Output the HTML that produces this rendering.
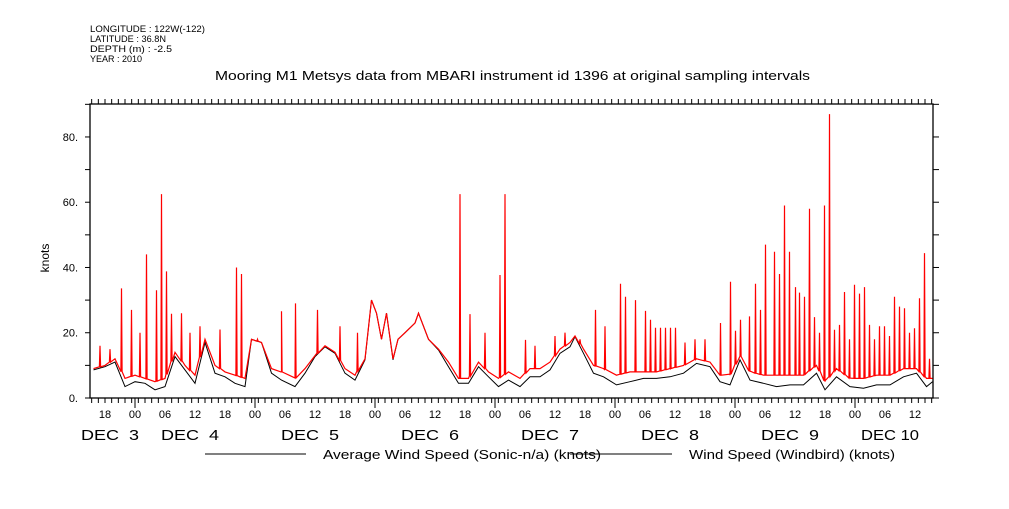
<!DOCTYPE html>
<html><head><meta charset="utf-8"><style>
body{margin:0;background:#fff;}
svg text{font-family:"Liberation Sans",sans-serif;fill:#000;}
</style></head><body>
<svg id="c" width="1009" height="504" viewBox="0 0 1009 504" xmlns="http://www.w3.org/2000/svg">
<g font-size="9">
<text x="90" y="32" textLength="115" lengthAdjust="spacingAndGlyphs">LONGITUDE : 122W(-122)</text>
<text x="90" y="42" textLength="76" lengthAdjust="spacingAndGlyphs">LATITUDE : 36.8N</text>
<text x="90" y="52" textLength="82" lengthAdjust="spacingAndGlyphs">DEPTH (m) : -2.5</text>
<text x="90" y="62" textLength="52" lengthAdjust="spacingAndGlyphs">YEAR : 2010</text>
</g>
<text x="215" y="80" font-size="12.5" textLength="595" lengthAdjust="spacingAndGlyphs">Mooring M1 Metsys data from MBARI instrument id 1396 at original sampling intervals</text>
<text x="0" y="0" font-size="12" text-anchor="middle" transform="translate(49,258) rotate(-90)">knots</text>
<g id="axes"></g>
<g id="series"></g>
<g font-size="12.5">
<line x1="205" y1="454" x2="306" y2="454" stroke="#000"/>
<text x="323" y="459" textLength="278" lengthAdjust="spacingAndGlyphs">Average Wind Speed (Sonic-n/a) (knots)</text>
<line x1="570" y1="454" x2="672" y2="454" stroke="#000"/>
<text x="689" y="459" textLength="206" lengthAdjust="spacingAndGlyphs">Wind Speed (Windbird) (knots)</text>
</g>
</svg>
<script>
const hours=[-8.3,-6,-4,-2,0,2,4,6,8,10,12,14,16,18,20,22,23.3,25.3,27.3,29.3,32,34,36,38,40,42,44,46,47.3,48.3,49.3,50.3,51.6,52.6,54,56,56.7,58.7,60.7,62.7,64.7,66.7,68.7,70.7,72.7,74.7,77,79,81,83,85,87,88,89.7,91.7,93.7,96.3,99,101.7,104.3,107,109.7,112.3,115,117,119,121,123,125.7,128.3,131,133.7,136.3,138,140.3,143,145.7,148.3,151,153.7,156.3,158.3,159.5];
const avgSpeed=[8.6,9.6,11,3.5,5,4.5,2.5,3.5,12.7,8.6,4.5,17,7.6,6.5,4.5,3.5,18,17,7.6,5.5,3.5,7.6,12.7,15.7,13.7,7.6,5.5,11.7,30,26,18,26,11.7,18,20,23,26,18,14.7,9.6,4.5,4.5,9.6,6.5,3.5,5.5,3.5,6.5,6.5,8.6,13.7,15.7,18.8,13.7,7.6,6.5,4,5,6,6,6.5,7.6,10.6,9.6,5,4,11.7,5.5,4.5,3.5,4,4,7.6,2.5,6.5,3.5,3,4,4,6.5,7.6,3.5,5];
const windbirdBase=[9,10,12,6,7,6,5,6,14,10,7,18,10,8,7,6,18,17,9,8,6,9,13,16,14,9,7,12,30,26,18,26,12,18,20,23,26,18,15,11,6,6,11,8,6,8,6,9,9,11,15,17,19,15,10,9,7,8,8,8,9,10,12,11,7,7,13,8,7,7,7,7,10,5,9,6,6,7,7,9,9,6,6];
const spikeHours=[-7,-5,-2.7,-0.7,1,2.3,4.3,5.3,6.3,7.3,9.3,11,13,17,20.3,21.3,24.5,29.3,32.1,36.5,41,44.5,65,67,70,73,74,78.1,80,84,86,89,92.1,94,97.1,98.1,100.1,102.1,103.1,104.1,105.1,106.1,107.1,108.1,110,112,114,117.1,119.1,120.1,121.1,122.9,124.1,125.1,126.1,127.9,128.9,129.9,130.9,132.1,132.9,133.9,134.9,135.9,136.9,137.9,138.9,139.9,140.9,141.9,142.9,143.9,144.9,145.9,146.9,147.9,148.9,149.9,150.9,151.9,152.9,153.9,154.9,155.9,156.9,157.9,158.9];
const spikeValues=[16,15,33.6,27,20,44,33,62.5,38.8,25.8,26,20,22,21,40,38,18,26.6,29,27,22,20,62.5,25.7,20,37.7,62.5,17.8,16,19,20,18,27,22,35,31,30,26.7,24,21.5,21.5,21.5,21.5,21.5,17,18,18,23,35.6,20.6,24,25,35,27,47,44.8,38,59,44.8,34,32.3,31,58,24.8,20,59,87,20.9,22.4,32.5,18,34.7,32,34,22.4,18,22,22,19,31,28,27.5,20,21.4,30.6,44.4,12];
const yTicks=[0,20,40,60,80];
const hourLabels=["18","00","06","12","18","00","06","12","18","00","06","12","18","00","06","12","18","00","06","12","18","00","06","12","18","00","06","12"];
const dateLabels=["DEC  3","DEC  4","DEC  5","DEC  6","DEC  7","DEC  8","DEC  9","DEC 10"];
const dateHours=[-5,11,35,59,83,107,131,151];

const X0=90,X1=933,Y0=398,Y1=104;
const xs=h=>135+h*5;
const ys=v=>398-v*3.263;
const NS="http://www.w3.org/2000/svg";
const axes=document.getElementById('axes'),series=document.getElementById('series');
function mk(tag,attrs,parent){const e=document.createElementNS(NS,tag);for(const k in attrs)e.setAttribute(k,attrs[k]);parent.appendChild(e);return e;}

const frame=mk('rect',{x:X0,y:Y1,width:X1-X0,height:Y0-Y1,fill:'none',stroke:'#000','stroke-width':1.3},axes);



for(let h=-9+1/3;h<=160;h+=4/3){
  const x=xs(h); if(x<X0||x>X1)continue;
  const t=mk('line',{x1:x,y1:Y0,x2:x,y2:Y0+5,stroke:'#000'},axes);
  
  
  const t2=mk('line',{x1:x,y1:Y1,x2:x,y2:Y1-5,stroke:'#000'},axes);
  
  
}
for(let d=0;d<7;d++){
  const x=xs(d*24);
  const t=mk('line',{x1:x,y1:Y0,x2:x,y2:Y0+10,stroke:'#000'},axes);
  
  
}
for(let v=0;v<=90;v+=10){
  const y=ys(v);
  const t=mk('line',{x1:X0-5,y1:y,x2:X0,y2:y,stroke:'#000'},axes);
  
  
  const t2=mk('line',{x1:X1,y1:y,x2:X1+6,y2:y,stroke:'#000'},axes);
  
  
}
yTicks.forEach(v=>{
  const t=mk('text',{x:X0-12,y:ys(v)+4,'font-size':11,'text-anchor':'end'},axes);
  t.textContent=v===0?'0.':v+'.';
  
  
});
hourLabels.forEach((l,i)=>{
  const t=mk('text',{x:xs(-6+6*i),y:418,'font-size':11,'text-anchor':'middle'},axes);
  t.textContent=l;
  
  
});
dateLabels.forEach((l,i)=>{
  const t=mk('text',{x:xs(dateHours[i])-29,y:440,'font-size':15,textLength:58,lengthAdjust:'spacingAndGlyphs'},axes);
  t.setAttribute('style','white-space:pre');
  t.textContent=l;
  
  
});

function interp(arr,h){
  if(h<=hours[0])return arr[0];
  for(let i=1;i<hours.length;i++){if(h<=hours[i]){const f=(h-hours[i-1])/(hours[i]-hours[i-1]);return arr[i-1]+f*(arr[i]-arr[i-1]);}}
  return arr[arr.length-1];
}
const pts=[];
hours.forEach((h,i)=>pts.push([h,windbirdBase[i]]));
spikeHours.forEach((h,i)=>{const b=interp(windbirdBase,h);pts.push([h-0.12,b]);pts.push([h,spikeValues[i]]);pts.push([h+0.12,b]);});
pts.sort((a,b)=>a[0]-b[0]);
const blk=mk('polyline',{points:hours.map((h,i)=>xs(h).toFixed(1)+','+ys(avgSpeed[i]).toFixed(1)).join(' '),fill:'none',stroke:'#000','stroke-width':1},series);


const red=mk('polyline',{points:pts.map(p=>xs(p[0]).toFixed(1)+','+ys(p[1]).toFixed(1)).join(' '),fill:'none',stroke:'#f00','stroke-width':1.2},series);


</script>
</body></html>
